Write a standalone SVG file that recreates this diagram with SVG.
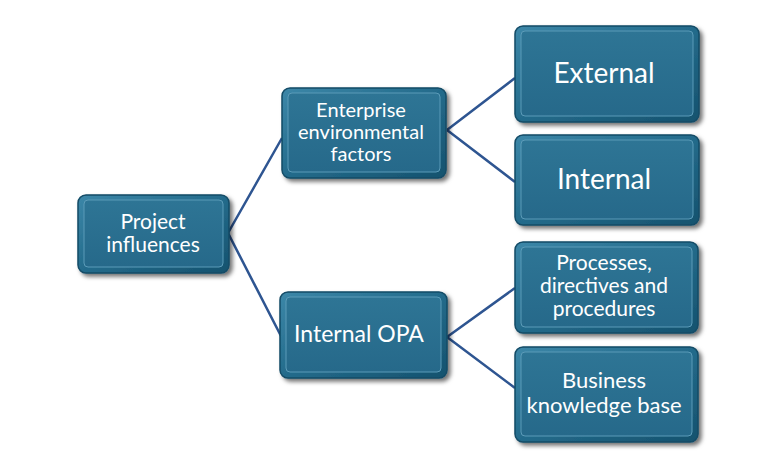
<svg xmlns="http://www.w3.org/2000/svg" width="778" height="472" viewBox="0 0 778 472">
<defs>
<linearGradient id="bevel" x1="0" y1="0" x2="1" y2="1">
<stop offset="0" stop-color="#3C87A8"/>
<stop offset="0.5" stop-color="#246B8B"/>
<stop offset="1" stop-color="#15526E"/>
</linearGradient>
<linearGradient id="face" x1="0" y1="0" x2="0" y2="1">
<stop offset="0" stop-color="#2E7595"/>
<stop offset="1" stop-color="#26698A"/>
</linearGradient>
<filter id="sh" x="-10%" y="-10%" width="125%" height="130%">
<feDropShadow dx="3" dy="3" stdDeviation="2" flood-color="#000" flood-opacity="0.55"/>
</filter>
</defs>
<style>
.outer{fill:url(#bevel);stroke:#124B66;stroke-width:1.5;filter:url(#sh)}
.inner{fill:url(#face);stroke:#5B9BB8;stroke-width:1}
.t{font-family:Lato,"Open Sans",sans-serif;fill:#FFFFFF;text-anchor:middle}
.c{stroke:#2E5591;stroke-width:2.5;fill:none}
</style>
<rect width="778" height="472" fill="#FFFFFF"/>
<g id="connectors">
<path class="c" d="M228 233 L282 138 M228 233 L282 338"/>
<path class="c" d="M447 130 L515 78 M447 130 L515 182"/>
<path class="c" d="M447 337 L515 288 M447 337 L515 388"/>
</g>
<g id="project-influences">
<rect class="outer" x="78" y="195" width="151" height="78" rx="8"/>
<rect class="inner" x="84" y="200" width="139" height="67" rx="4"/>
<text class="t" font-size="21" x="153" y="229">Project</text>
<text class="t" font-size="21" x="153" y="252">influences</text>
</g>
<g id="enterprise-environmental-factors">
<rect class="outer" x="282" y="88" width="164" height="90" rx="8"/>
<rect class="inner" x="288" y="93" width="152" height="79" rx="4"/>
<text class="t" font-size="20" x="361" y="117">Enterprise</text>
<text class="t" font-size="20" x="361" y="139">environmental</text>
<text class="t" font-size="20" x="361" y="161">factors</text>
</g>
<g id="external">
<rect class="outer" x="515" y="26" width="184" height="96" rx="8"/>
<rect class="inner" x="521" y="31" width="172" height="85" rx="4"/>
<text class="t" font-size="28" x="604" y="83">External</text>
</g>
<g id="internal">
<rect class="outer" x="515" y="135" width="184" height="90" rx="8"/>
<rect class="inner" x="521" y="140" width="172" height="79" rx="4"/>
<text class="t" font-size="28" x="604" y="189">Internal</text>
</g>
<g id="internal-opa">
<rect class="outer" x="280" y="292" width="167" height="86" rx="8"/>
<rect class="inner" x="286" y="297" width="155" height="75" rx="4"/>
<text class="t" font-size="23" x="359" y="342">Internal OPA</text>
</g>
<g id="processes">
<rect class="outer" x="515" y="242" width="183" height="91" rx="8"/>
<rect class="inner" x="521" y="247" width="171" height="80" rx="4"/>
<text class="t" font-size="21" x="604" y="270">Processes,</text>
<text class="t" font-size="21" x="604" y="293">directives and</text>
<text class="t" font-size="21" x="604" y="316">procedures</text>
</g>
<g id="business-knowledge-base">
<rect class="outer" x="515" y="347" width="183" height="95" rx="8"/>
<rect class="inner" x="521" y="352" width="171" height="84" rx="4"/>
<text class="t" font-size="22" x="604" y="388">Business</text>
<text class="t" font-size="22" x="604" y="413">knowledge base</text>
</g>
</svg>
